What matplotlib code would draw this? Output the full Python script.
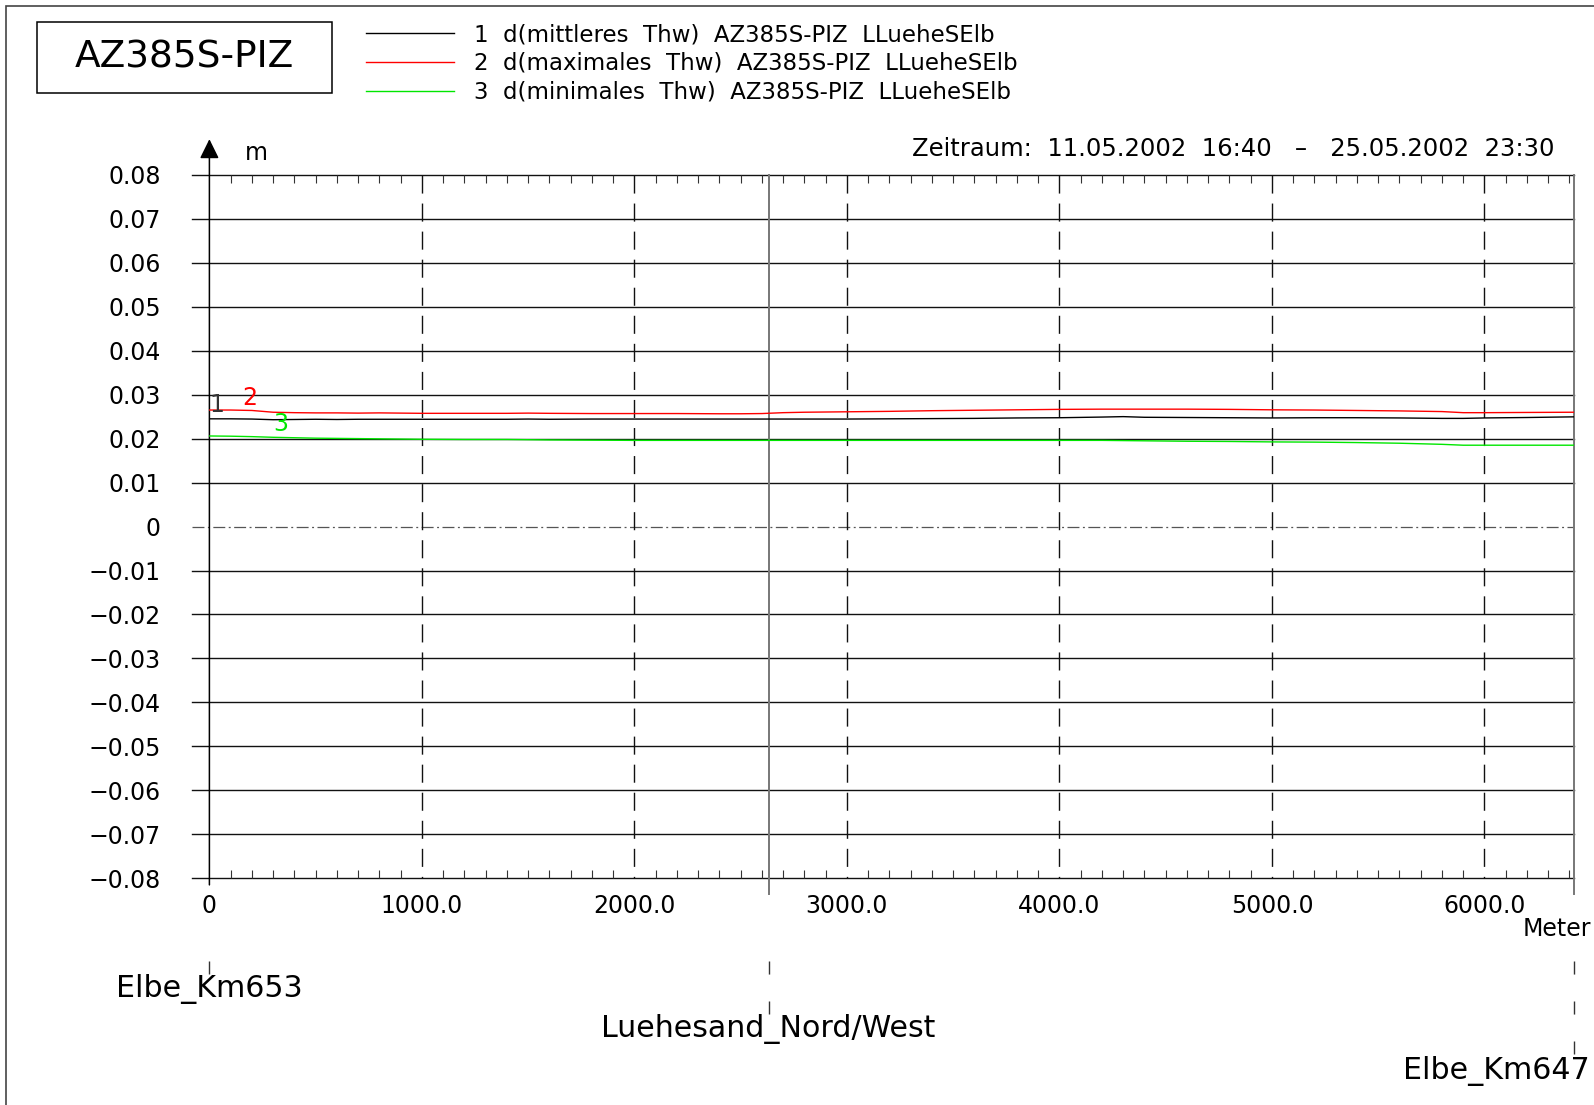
import numpy as np
import matplotlib
matplotlib.use('Agg')
import matplotlib.pyplot as plt
from matplotlib import transforms
from matplotlib.patches import Rectangle
from matplotlib.ticker import MultipleLocator

plt.rcParams['font.family'] = ['DejaVu Sans']
plt.rcParams['lines.scale_dashes'] = False

# Strecke entlang des Profils (m) und Thw-Differenzen (m)
dist = [0, 100, 200, 300, 400, 500, 600, 700, 800, 900,
        1000, 1200, 1400, 1500, 1600, 1800, 2000, 2200, 2400, 2500,
        2600, 2700, 2800, 3000, 3200, 3400, 3600, 3800, 4000, 4200,
        4300, 4400, 4600, 4800, 5000, 5200, 5400, 5600, 5800, 5900,
        6000, 6200, 6420]
d_mittel = [0.02450, 0.02450, 0.02445, 0.02430, 0.02435, 0.02440, 0.02435, 0.02440, 0.02440, 0.02440,
            0.02440, 0.02440, 0.02440, 0.02445, 0.02440, 0.02445, 0.02445, 0.02445, 0.02445, 0.02445,
            0.02445, 0.02445, 0.02445, 0.02445, 0.02450, 0.02455, 0.02460, 0.02470, 0.02475, 0.02490,
            0.02500, 0.02485, 0.02480, 0.02475, 0.02470, 0.02475, 0.02475, 0.02470, 0.02460, 0.02460,
            0.02470, 0.02480, 0.02495]
d_max = [0.02650, 0.02650, 0.02640, 0.02600, 0.02590, 0.02585, 0.02585, 0.02580, 0.02585, 0.02580,
         0.02575, 0.02575, 0.02575, 0.02580, 0.02575, 0.02570, 0.02570, 0.02570, 0.02565, 0.02565,
         0.02570, 0.02590, 0.02600, 0.02610, 0.02620, 0.02635, 0.02645, 0.02655, 0.02665, 0.02670,
         0.02670, 0.02670, 0.02670, 0.02665, 0.02655, 0.02650, 0.02640, 0.02630, 0.02615, 0.02590,
         0.02590, 0.02595, 0.02600]
d_min = [0.02060, 0.02055, 0.02045, 0.02030, 0.02020, 0.02010, 0.02005, 0.02000, 0.01995, 0.01990,
         0.01985, 0.01980, 0.01980, 0.01975, 0.01970, 0.01965, 0.01960, 0.01960, 0.01960, 0.01960,
         0.01960, 0.01960, 0.01960, 0.01960, 0.01960, 0.01960, 0.01960, 0.01960, 0.01960, 0.01960,
         0.01955, 0.01950, 0.01940, 0.01935, 0.01925, 0.01920, 0.01910, 0.01895, 0.01870, 0.01850,
         0.01850, 0.01850, 0.01850]

labels = ['1  d(mittleres  Thw)  AZ385S-PIZ  LLueheSElb',
          '2  d(maximales  Thw)  AZ385S-PIZ  LLueheSElb',
          '3  d(minimales  Thw)  AZ385S-PIZ  LLueheSElb']
colors = ['black', 'red', '#00e600']

stations = ['Elbe_Km653', 'Luehesand_Nord/West', 'Elbe_Km647']
station_pos = [0, 2631, 6420]

x_ticks = [0, 1000, 2000, 3000, 4000, 5000, 6000]
x_labels = ['0', '1000.0', '2000.0', '3000.0', '4000.0', '5000.0', '6000.0']
y_ticks = [0.08, 0.07, 0.06, 0.05, 0.04, 0.03, 0.02, 0.01, 0.0,
           -0.01, -0.02, -0.03, -0.04, -0.05, -0.06, -0.07, -0.08]
y_labels = ['0.08', '0.07', '0.06', '0.05', '0.04', '0.03', '0.02', '0.01', '0',
            '\u22120.01', '\u22120.02', '\u22120.03', '\u22120.04', '\u22120.05',
            '\u22120.06', '\u22120.07', '\u22120.08']

W, H = 1594, 1105
x_end = 6420
x_left = -82

fig = plt.figure(figsize=(W / 100, H / 100), dpi=100)
ax = fig.add_axes([209.4 / W, 1 - 878.3 / H, (1573.7 - 209.4) / W, (878.3 - 174.8) / H])
ax.set_xlim(0, x_end)
ax.set_ylim(-0.08, 0.08)
for s in ax.spines.values():
    s.set_visible(False)

# waagerechte Gitterlinien, Nulllinie strichpunktiert
for v in y_ticks:
    if abs(v) < 1e-9:
        ax.plot([x_left, x_end], [v, v], color='#555555', lw=0.9,
                ls=(0, (8.6, 2.5, 1.4, 2.5)), clip_on=False, zorder=1)
    else:
        ax.plot([x_left, x_end], [v, v], color='#111111', lw=1.0, clip_on=False, zorder=1)

# senkrechte Kilometerlinien
for xt in x_ticks[1:]:
    ax.plot([xt, xt], [0.08, -0.08], color='#111111', lw=1.0, ls=(0, (13, 7.2)), zorder=1)

# Stationslinien im Diagramm
for xs in station_pos[1:]:
    ax.plot([xs, xs], [0.08, -0.0835], color='#777777', lw=1.4, clip_on=False, zorder=1)

# y-Achse mit Pfeil
ax.annotate('', xy=(0, 0.0881), xytext=(0, -0.0815),
            arrowprops=dict(arrowstyle='-|>,head_length=0.85,head_width=0.42', color='black',
                            lw=1.1, shrinkA=0, shrinkB=0, mutation_scale=14),
            annotation_clip=False)

lines = []
for y, c in zip([d_mittel, d_max, d_min], colors):
    ln, = ax.plot(dist, y, color=c, lw=1.0, zorder=3)
    lines.append(ln)

ax.text(34, 0.0277, '1', color='#333333', ha='center', va='center', fontsize=17)
ax.text(188, 0.0293, '2', color='red', ha='center', va='center', fontsize=17)
ax.text(337, 0.0233, '3', color='#00e600', ha='center', va='center', fontsize=17)

ax.set_xticks(x_ticks, x_labels)
ax.set_yticks(y_ticks, y_labels)
ax.xaxis.set_minor_locator(MultipleLocator(100))
ax.tick_params(axis='x', which='major', length=0, pad=11, labelsize=17)
ax.tick_params(axis='x', which='minor', direction='in', top=True, bottom=True,
               length=5.8, width=0.8, color='#333333')
ax.tick_params(axis='y', length=0, pad=35, labelsize=17)

fig.text(1555 / W, 1 - 149.5 / H, 'Zeitraum:  11.05.2002  16:40   \u2013   25.05.2002  23:30',
         ha='right', va='center', fontsize=17.5)
fig.text(256 / W, 1 - 153.5 / H, 'm', ha='center', va='center', fontsize=17)
fig.text(1591 / W, 1 - 929 / H, 'Meter', ha='right', va='center', fontsize=17)

# Stationen unter der Achse
trans = transforms.blended_transform_factory(ax.transData, fig.transFigure)
for k, (name, xs) in enumerate(zip(stations, station_pos)):
    y0 = 1 - 961 / H
    y1 = 1 - (974 + 40 * k) / H
    ax.plot([xs, xs], [y0, y1], transform=trans, color='#333333', lw=1.0,
            ls=(0, (9.4, 19.4)), clip_on=False)
    yl = 1 - (988.5 + 41 * k) / H
    if k == len(stations) - 1:
        t = transforms.offset_copy(trans, fig=fig, x=16, y=0, units='dots')
        ax.text(xs, yl, name, transform=t, ha='right', va='center', fontsize=21.6)
    else:
        ax.text(xs, yl, name, transform=trans, ha='center', va='center', fontsize=21.6)

# Titelkasten und Legende
fig.add_artist(Rectangle((36.6 / W, 1 - 92.5 / H), (332.4 - 36.6) / W, (92.5 - 22.4) / H,
                         transform=fig.transFigure, fill=False, ec='black', lw=1.1))
fig.text(184.5 / W, 1 - 57.5 / H, 'AZ385S-PIZ', ha='center', va='center', fontsize=27)

fig.legend(lines, labels, loc='upper left', bbox_to_anchor=(366 / W, 1 - 23.2 / H),
           frameon=False, handlelength=3.84, handletextpad=0.87, labelspacing=0.25,
           fontsize=16.5, borderpad=0, borderaxespad=0)

# Blattrahmen
fig.add_artist(Rectangle((6 / W, -0.05), 1.1, 1.05 - 5.5 / H, transform=fig.transFigure,
                         fill=False, ec='#444444', lw=1.2))

fig.savefig('out.png', dpi=100)
